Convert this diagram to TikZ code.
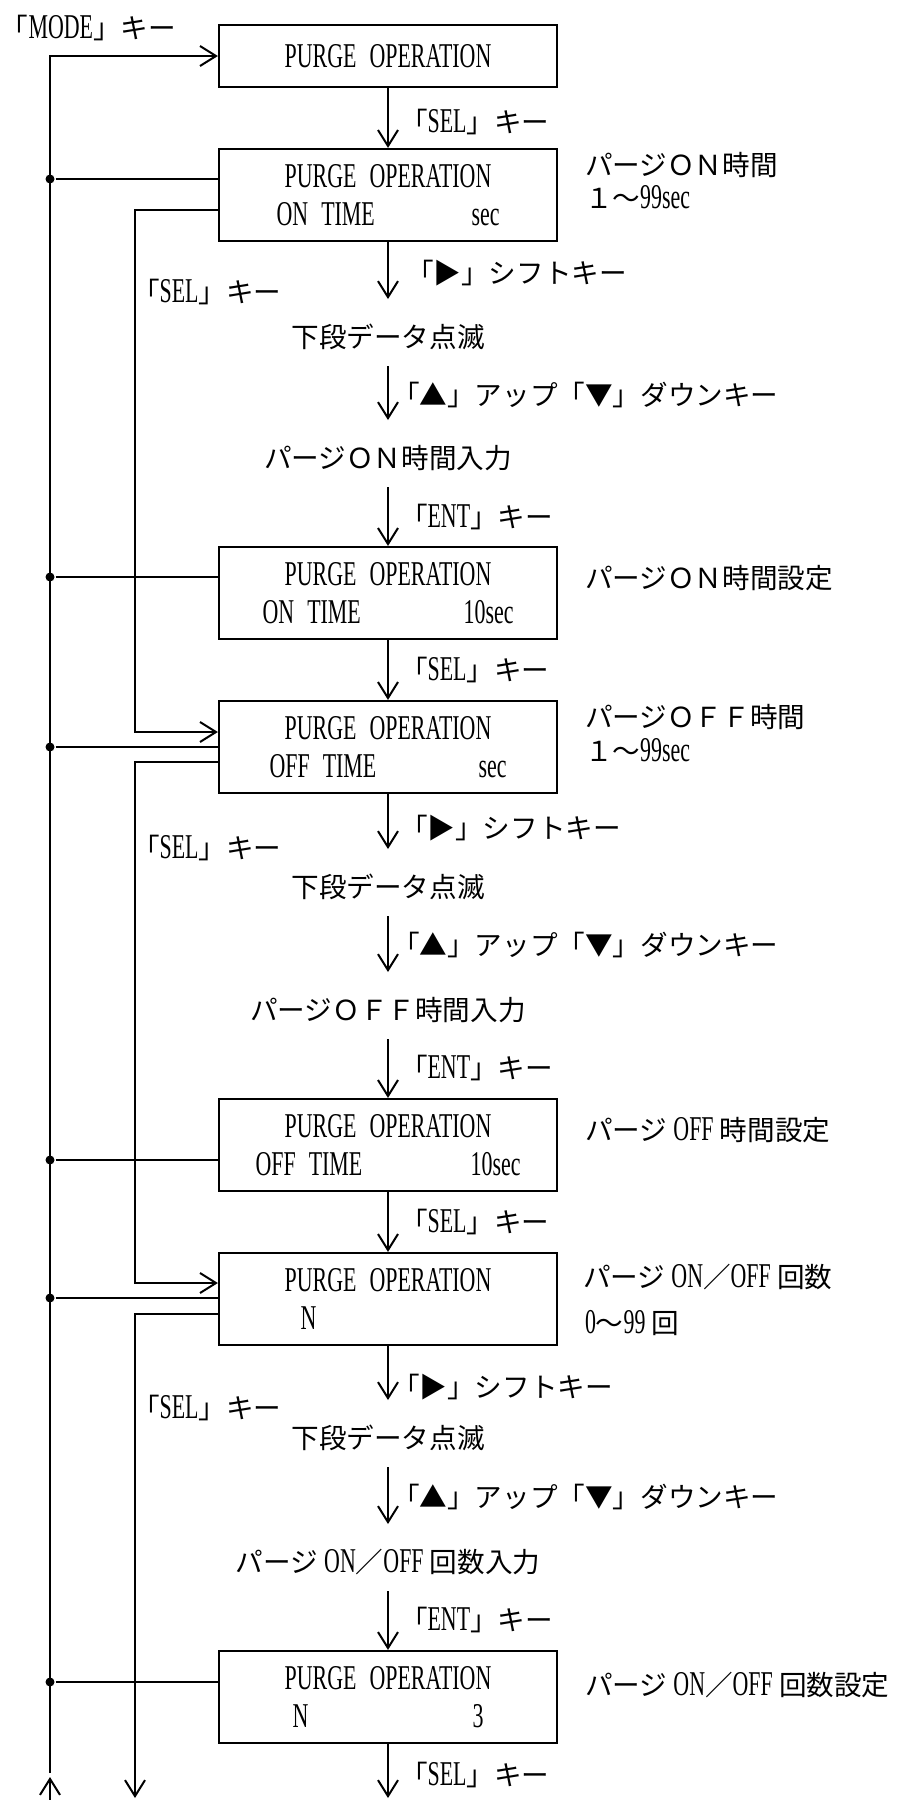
\documentclass[tikz,border=0pt]{standalone}
\usepackage{fontspec}
\setmainfont{Liberation Serif}
\newfontfamily\jpfont{Noto Sans CJK JP}
\newfontfamily\lcdfont[FakeStretch=0.63,Scale=1.26,WordSpace=2.4]{Liberation Serif}
\newcommand{\hw}[1]{{\lcdfont #1}}
\newcommand{\lcdrow}[3]{\makebox[#1]{#2\hfill #3}}
\usepackage{tikz}
\usetikzlibrary{arrows.meta}

\begin{document}
\begin{tikzpicture}[x=0.5pt,y=-0.5pt,line width=1pt,
        lcd/.style={draw,line width=1.1pt,minimum width=169pt,minimum height=46pt,inner sep=0pt,
          align=center,font=\lcdfont\fontsize{13.8}{19}\selectfont},
        msg/.style={inner sep=0pt,minimum height=28pt,font=\jpfont\fontsize{13.8}{19}\selectfont},
        key/.style={anchor=west,inner sep=0pt,font=\jpfont\fontsize{13.8}{19}\selectfont},
        arr/.style={-{Straight Barb[length=8pt,width=10pt]}},
        dot/.style={circle,fill,inner sep=0pt,minimum size=4.5pt}]
        \useasboundingbox (0,0) rectangle (896,1800);
        % display boxes
        \node[lcd,minimum height=31pt] (b1) at (388,56) {PURGE OPERATION};
        \node[lcd] (b2) at (388,195) {PURGE OPERATION\\\lcdrow{111.5pt}{ON TIME}{sec}};
        \node[lcd] (b3) at (388,593) {PURGE OPERATION\\\lcdrow{125.5pt}{ON TIME}{10sec}};
        \node[lcd] (b4) at (388,747) {PURGE OPERATION\\\lcdrow{118.5pt}{OFF TIME}{sec}};
        \node[lcd] (b5) at (388,1145) {PURGE OPERATION\\\lcdrow{132.5pt}{OFF TIME}{10sec}};
        \node[lcd] (b6) at (388,1299) {PURGE OPERATION\\\lcdrow{87.5pt}{N}{}};
        \node[lcd] (b7) at (388,1697) {PURGE OPERATION\\\lcdrow{95.5pt}{N}{3}};
        % steps between boxes
        \node[msg] (t1) at (388,337) {下段データ点滅};
        \node[msg] (t2) at (388,458) {パージＯＮ時間入力};
        \node[msg] (t3) at (388,887) {下段データ点滅};
        \node[msg] (t4) at (388,1010) {パージＯＦＦ時間入力};
        \node[msg] (t5) at (388,1438) {下段データ点滅};
        \node[msg] (t6) at (388,1562) {パージ \hw{ON}／\hw{OFF} 回数入力};
        \draw[arr] (b1)--(b2); \draw[arr,shorten >=4.5pt] (b2)--(t1);
        \draw[arr,shorten >=4.5pt] (t1)--(t2); \draw[arr] (t2)--(b3);
        \draw[arr] (b3)--(b4); \draw[arr,shorten >=4.5pt] (b4)--(t3);
        \draw[arr,shorten >=4.5pt] (t3)--(t4); \draw[arr] (t4)--(b5);
        \draw[arr] (b5)--(b6); \draw[arr,shorten >=4.5pt] (b6)--(t5);
        \draw[arr,shorten >=4.5pt] (t5)--(t6); \draw[arr] (t6)--(b7);
        \coordinate (z) at (388,1798); \draw[arr] (b7)--(z);
        % key labels
        \node[key] (k0) at (0,28) {「\hw{MODE}」キー};
        \node[key] (k1) at (399,122) {「\hw{SEL}」キー};
        \node[key] (k2) at (405,273) {「▶」シフトキー};
        \node[key] (k3) at (391,395) {「▲」アップ「▼」ダウンキー};
        \node[key] (k4) at (399,517) {「\hw{ENT}」キー};
        \node[key] (k5) at (399,670) {「\hw{SEL}」キー};
        \node[key] (k6) at (399,828) {「▶」シフトキー};
        \node[key] (k7) at (391,945) {「▲」アップ「▼」ダウンキー};
        \node[key] (k8) at (399,1068) {「\hw{ENT}」キー};
        \node[key] (k9) at (399,1222) {「\hw{SEL}」キー};
        \node[key] (k10) at (391,1387) {「▶」シフトキー};
        \node[key] (k11) at (391,1497) {「▲」アップ「▼」ダウンキー};
        \node[key] (k12) at (399,1620) {「\hw{ENT}」キー};
        \node[key] (k13) at (399,1775) {「\hw{SEL}」キー};
        \node[key] (l1) at (131,292) {「\hw{SEL}」キー};
        \node[key] (l2) at (131,848) {「\hw{SEL}」キー};
        \node[key] (l3) at (131,1408) {「\hw{SEL}」キー};
        % notes on the right
        \node[key] (n2a) at (584,165) {パージＯＮ時間};
        \node[key] (n2b) at (584,197) {１～\hw{99sec}};
        \node[key] (n3) at (584,578) {パージＯＮ時間設定};
        \node[key] (n4a) at (584,717) {パージＯＦＦ時間};
        \node[key] (n4b) at (584,750) {１～\hw{99sec}};
        \node[key] (n5) at (584,1130) {パージ \hw{OFF} 時間設定};
        \node[key] (n6a) at (582,1277) {パージ \hw{ON}／\hw{OFF} 回数};
        \node[key] (n6b) at (584,1323) {\hw{0}～\hw{99} 回};
        \node[key] (n7) at (584,1685) {パージ \hw{ON}／\hw{OFF} 回数設定};
        % MODE return line
        \node[dot] (d2) at (50,179) {}; \node[dot] (d3) at (50,577) {};
        \node[dot] (d4) at (50,747) {}; \node[dot] (d5) at (50,1160) {};
        \node[dot] (d6) at (50,1298) {}; \node[dot] (d7) at (50,1682) {};
        \draw (d2)--(d2-|b2.west); \draw (d3)--(d3-|b3.west);
        \draw (d4)--(d4-|b4.west); \draw (d5)--(d5-|b5.west);
        \draw (d6)--(d6-|b6.west); \draw (d7)--(d7-|b7.west);
        \coordinate (m0) at (50,1773); \draw[arr] (m0) |- (b1);
        \coordinate (u0) at (50,1800); \coordinate (u1) at (50,1777);
        \draw[arr] (u0)--(u1);
        % SEL skip lines
        \coordinate (s2) at (135,210); \coordinate (e4) at (135,732);
        \coordinate (s4) at (135,762); \coordinate (e6) at (135,1283);
        \coordinate (s6) at (135,1314); \coordinate (e8) at (135,1798);
        \draw[arr] (s2-|b2.west)--(s2)--(e4)--(e4-|b4.west);
        \draw[arr] (s4-|b4.west)--(s4)--(e6)--(e6-|b6.west);
        \draw[arr] (s6-|b6.west)--(s6)--(e8);
      \end{tikzpicture}
\end{document}
